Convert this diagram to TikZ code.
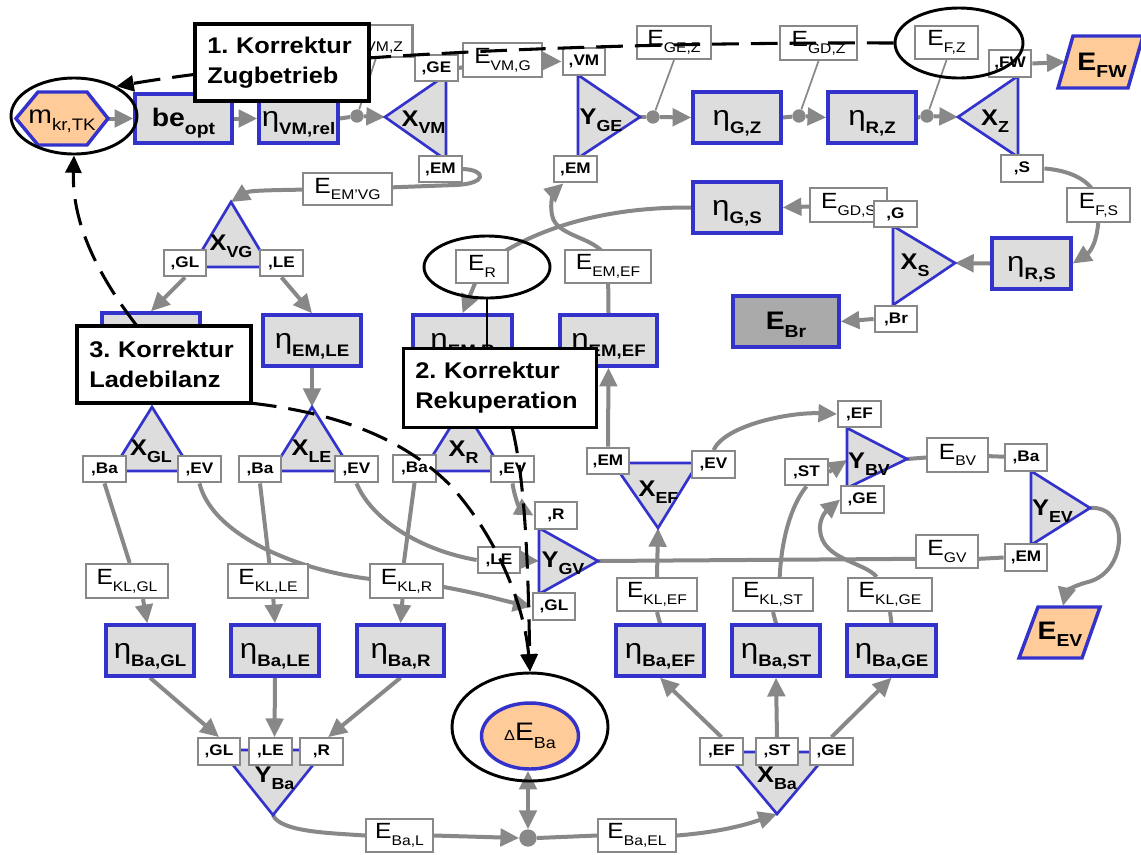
\documentclass[tikz,border=0pt]{standalone}
\usepackage{fontspec}
\setmainfont[FakeStretch=1.12]{Liberation Sans}
\usetikzlibrary{arrows.meta,shapes.geometric}
\pgfdeclarelayer{back}
\pgfdeclarelayer{bg}
\pgfsetlayers{back,bg,main}
\definecolor{nblue}{HTML}{3333CC}
\definecolor{nfill}{HTML}{DDDDDD}
\definecolor{peach}{HTML}{FFCC99}
\definecolor{cgray}{HTML}{888888}
\definecolor{brfill}{HTML}{AAAAAA}
% text helpers: efficiency boxes, energy labels, node (triangle) labels
\newcommand{\msub}[2]{{\fontsize{21}{21}\selectfont #1}\raisebox{-6pt}{\fontsize{12.5}{12.5}\selectfont\bfseries #2}}
\newcommand{\elab}[1]{{\fontsize{16.5}{16.5}\selectfont E}\raisebox{-5pt}{\fontsize{10.5}{10.5}\selectfont #1}}
\newcommand{\tlab}[2]{{\fontsize{17}{17}\selectfont\bfseries #1}\raisebox{-5.5pt}{\fontsize{12}{12}\selectfont\bfseries #2}}
\newcommand{\blab}[2]{{\fontsize{19}{19}\selectfont\bfseries #1}\raisebox{-5.5pt}{\fontsize{13}{13}\selectfont\bfseries #2}}
\begin{document}
\begin{tikzpicture}[x=0.75pt,y=-0.75pt,
 sz/.style 2 args={minimum width={#1*0.75pt},minimum height={#2*0.75pt}},
 main/.style={draw=nblue,fill=nfill,line width=2.6pt,inner sep=0pt,text height=15pt,text depth=2.5pt},
 ebox/.style={draw=cgray,fill=white,line width=1.6pt,inner sep=0pt},
 port/.style={draw=cgray,fill=white,line width=1.6pt,inner sep=0pt,minimum width=32pt,minimum height=20pt,font=\fontsize{11.5}{11.5}\selectfont\bfseries},
 tri/.style={draw=nblue,fill=nfill,line width=2pt,line join=miter},
 tlabel/.style={inner sep=0pt},
 conn/.style={draw=cgray,line width=3pt},
 arr/.style={conn,-{Triangle[length=14pt,width=13pt]}},
 thinln/.style={draw=cgray,line width=1.3pt},
 dotn/.style={circle,fill=cgray,inner sep=0pt,minimum size=10pt},
 ring/.style={ellipse,draw=black,line width=2.2pt,inner sep=0pt},
 dsh/.style={draw=black,line width=2.3pt,dash pattern=on 20pt off 9pt,-{Triangle[length=13pt,width=12pt]}},
 callout/.style={draw=black,fill=white,line width=2.5pt,align=left,inner ysep=0pt,font=\fontsize{17}{22.5}\selectfont\bfseries}
]
\useasboundingbox (0,0) rectangle (1141,854);
\begin{pgfonlayer}{back}
\fill[white] (0,0) rectangle (1141,854);
\end{pgfonlayer}

% ---------- terminals ----------
\draw[draw=nblue,fill=peach,line width=2.6pt] (16,118.5) -- (38,92) -- (87,92) -- (108,118.5) -- (87,145) -- (38,145) -- cycle;
\coordinate (mkrR) at (108,118.5);
\node[inner sep=0pt] (mkr) at (62,121) {{\fontsize{19}{19}\selectfont m}\raisebox{-5.5pt}{\fontsize{12.5}{12.5}\selectfont kr,TK}};
\draw[draw=nblue,fill=peach,line width=2.6pt] (1058,88) -- (1073,36) -- (1143,36) -- (1128,88) -- cycle;
\coordinate (efwL) at (1065.5,62);
\node[inner sep=0pt] (efw) at (1102,65) {\blab{E}{FW}};
\draw[draw=nblue,fill=peach,line width=2.6pt] (1019,658) -- (1038,607) -- (1100,607) -- (1082,658) -- cycle;
\coordinate (eevT) at (1063,606);
\node[inner sep=0pt] (eev) at (1060,634) {\blab{E}{EV}};
\node[ellipse,draw=nblue,fill=peach,line width=2.6pt,inner sep=0pt,sz={97}{66}] (deba) at (530,736)
  {{\fontsize{11}{11}\selectfont Δ}{\fontsize{19}{19}\selectfont E}\raisebox{-5.5pt}{\fontsize{12}{12}\selectfont Ba}};

% ---------- efficiency boxes ----------
\node[main,sz={97}{49}] (beopt) at (183.5,118.5) {\blab{be}{opt}};
\node[main,sz={79}{49}] (etavm) at (298.5,118.5) {\msub{η}{VM,rel}};
\node[main,sz={88}{51}] (etagz) at (737,117.5) {\msub{η}{G,Z}};
\node[main,sz={88}{51}] (etarz) at (872,117.5) {\msub{η}{R,Z}};
\node[main,sz={88}{51}] (etags) at (737,207.5) {\msub{η}{G,S}};
\node[main,sz={79}{51}] (etars) at (1031.5,263.5) {\msub{η}{R,S}};
\node[main,sz={106}{51},fill=brfill] (ebr) at (786,321.5) {\blab{E}{Br}};
\node[main,sz={98}{52}] (etaemgl) at (151,339) {};
\node[main,sz={98}{51}] (etaemle) at (312,340.5) {\msub{η}{EM,LE}};
\node[main,sz={99}{51}] (etaemr) at (462.5,340.5) {\msub{η}{EM,R}};
\node[main,sz={97}{51}] (etaemef) at (608.5,340.5) {\msub{η}{EM,EF}};
\node[main,sz={88}{51}] (etabagl) at (150,650.5) {\msub{η}{Ba,GL}};
\node[main,sz={88}{51}] (etabale) at (275,650.5) {\msub{η}{Ba,LE}};
\node[main,sz={87}{51}] (etabar) at (400.5,650.5) {\msub{η}{Ba,R}};
\node[main,sz={88}{51}] (etabaef) at (660,650.5) {\msub{η}{Ba,EF}};
\node[main,sz={88}{51}] (etabast) at (776,650.5) {\msub{η}{Ba,ST}};
\node[main,sz={89}{51}] (etabage) at (891.5,650.5) {\msub{η}{Ba,GE}};

% ---------- split / merge nodes ----------
\coordinate (XVMl) at (385,117);
\draw[tri] (XVMl) -- (446,75) -- (446,160) -- cycle;
\coordinate (YGEr) at (640,117);
\draw[tri] (578,75) -- (YGEr) -- (578,158) -- cycle;
\coordinate (XZl) at (958,117);
\draw[tri] (XZl) -- (1018,76) -- (1018,157) -- cycle;
\coordinate (XSr) at (955,263);
\draw[tri] (893,226) -- (XSr) -- (893,305) -- cycle;
\coordinate (XVGt) at (231,202);
\draw[tri] (XVGt) -- (270,267) -- (192,267) -- cycle;
\coordinate (XGLt) at (152,407);
\draw[tri] (XGLt) -- (192,471) -- (112,471) -- cycle;
\coordinate (XLEt) at (312,407);
\draw[tri] (XLEt) -- (352,471) -- (272,471) -- cycle;
\coordinate (XRt) at (463,407);
\draw[tri] (XRt) -- (503,471) -- (423,471) -- cycle;
\coordinate (XEFb) at (658,528);
\draw[tri] (613,463) -- (698,463) -- (XEFb) -- cycle;
\coordinate (YGVr) at (598,561);
\coordinate (YGVl) at (539,561);
\draw[tri] (539,528) -- (YGVr) -- (539,594) -- cycle;
\coordinate (YBVr) at (907,459);
\coordinate (YBVl) at (847,460);
\draw[tri] (847,428) -- (YBVr) -- (847,488) -- cycle;
\coordinate (YEVr) at (1090,508);
\draw[tri] (1031,471) -- (YEVr) -- (1031,545) -- cycle;
\coordinate (YBab) at (273,815);
\draw[tri] (221,750) -- (325,750) -- (YBab) -- cycle;
\coordinate (XBab) at (777,814);
\draw[tri] (725,752) -- (829,752) -- (XBab) -- cycle;

\node[tlabel] (lXVM) at (423.5,122.5) {\tlab{X}{VM}};
\node[tlabel] (lYGE) at (601,120.5) {\tlab{Y}{GE}};
\node[tlabel] (lXZ) at (995,121) {\tlab{X}{Z}};
\node[tlabel] (lXS) at (915,265) {\tlab{X}{S}};
\node[tlabel] (lXVG) at (231,246) {\tlab{X}{VG}};
\node[tlabel] (lXGL) at (151,451) {\tlab{X}{GL}};
\node[tlabel] (lXLE) at (311.5,451) {\tlab{X}{LE}};
\node[tlabel] (lXR) at (463.5,452) {\tlab{X}{R}};
\node[tlabel] (lXEF) at (658.5,492.5) {\tlab{X}{EF}};
\node[tlabel] (lYGV) at (563,563.5) {\tlab{Y}{GV}};
\node[tlabel] (lYBV) at (869,464) {\tlab{Y}{BV}};
\node[tlabel] (lYEV) at (1052.5,511.5) {\tlab{Y}{EV}};
\node[tlabel] (lYBa) at (274.5,778) {\tlab{Y}{Ba}};
\node[tlabel] (lXBa) at (777,778) {\tlab{X}{Ba}};

% ---------- energy labels ----------
\node[ebox,sz={73}{32}] (evmz) at (376,41) {\elab{VM,Z}};
\node[ebox,sz={79}{34}] (evmg) at (502.5,60) {\elab{VM,G}};
\node[ebox,sz={74}{33}] (egez) at (674,42.5) {\elab{GE,Z}};
\node[ebox,sz={77}{34}] (egdz) at (818.5,43) {\elab{GD,Z}};
\node[ebox,sz={63}{33}] (efz) at (946.5,42.5) {\elab{F,Z}};
\node[ebox,sz={89}{32}] (eemvg) at (347.5,189) {\elab{EM’VG}};
\node[ebox,sz={77}{34}] (egds) at (848.5,205) {\elab{GD,S}};
\node[ebox,sz={63}{34}] (efs) at (1098.5,205) {\elab{F,S}};
\node[ebox,sz={52}{33}] (er) at (482,266.5) {\elab{R}};
\node[ebox,sz={86}{33}] (eemef) at (608,266.5) {\elab{EM,EF}};
\node[ebox,sz={61}{34}] (ebv) at (957.5,455) {\elab{BV}};
\node[ebox,sz={62}{33}] (egv) at (947,551.5) {\elab{GV}};
\node[ebox,sz={82}{34}] (eklgl) at (127,581) {\elab{KL,GL}};
\node[ebox,sz={80}{34}] (eklle) at (268,581) {\elab{KL,LE}};
\node[ebox,sz={73}{34}] (eklr) at (406.5,581) {\elab{KL,R}};
\node[ebox,sz={80}{33}] (eklef) at (657,594.5) {\elab{KL,EF}};
\node[ebox,sz={80}{33}] (eklst) at (773,594.5) {\elab{KL,ST}};
\node[ebox,sz={84}{33}] (eklge) at (890,594.5) {\elab{KL,GE}};
\node[ebox,sz={67}{33}] (ebal) at (399.5,835.5) {\elab{Ba,L}};
\node[ebox,sz={78}{33}] (ebael) at (637,835.5) {\elab{Ba,EL}};

% ---------- ports ----------
\node[port] (pvmge) at (436.5,68) {,GE};
\node[port] (pvmem) at (440.5,169) {,EM};
\node[port] (pgevm) at (584,61.5) {,VM};
\node[port] (pgeem) at (575.5,169) {,EM};
\node[port] (pzfw) at (1010,63.5) {,FW};
\node[port] (pzs) at (1022,168.5) {,S};
\node[port] (psg) at (895.5,214) {,G};
\node[port] (psbr) at (896,319) {,Br};
\node[port] (pvggl) at (185,263) {,GL};
\node[port] (pvgle) at (281.5,263) {,LE};
\node[port] (pglba) at (104.5,469) {,Ba};
\node[port] (pglev) at (199.5,469) {,EV};
\node[port] (pleba) at (260,469) {,Ba};
\node[port] (pleev) at (356.5,469) {,EV};
\node[port] (prba) at (414.5,468.5) {,Ba};
\node[port] (prev) at (512.5,469) {,EV};
\node[port] (pefem) at (608,461) {,EM};
\node[port] (pefev) at (713.5,464.5) {,EV};
\node[port] (pgvr) at (556,515.5) {,R};
\node[port] (pgvle) at (499,560) {,LE};
\node[port] (pgvgl) at (554,606.5) {,GL};
\node[port] (pbvef) at (859.5,414) {,EF};
\node[port] (pbvst) at (806.5,472) {,ST};
\node[port] (pbvge) at (862.5,499.5) {,GE};
\node[port] (pevba) at (1026,457.5) {,Ba};
\node[port] (pevem) at (1026,557.5) {,EM};
\node[port] (pbagl) at (219,751.5) {,GL};
\node[port] (pbale) at (270.5,751.5) {,LE};
\node[port] (pbar) at (321.5,751.5) {,R};
\node[port] (pbaef) at (721.5,751.5) {,EF};
\node[port] (pbast) at (777,751.5) {,ST};
\node[port] (pbage) at (831.5,751.5) {,GE};

% ---------- junction dots ----------
\node[dotn] (d1) at (357,116) {};
\node[dotn] (d2) at (653,117) {};
\node[dotn] (d3) at (799,116) {};
\node[dotn] (d4) at (927,116) {};
\node[dotn,minimum size=13pt] (d5) at (528,838) {};

% ---------- energy flow connectors ----------
\begin{pgfonlayer}{bg}
\draw[arr] (mkrR) -- (beopt.west);
\draw[arr] (beopt.east) -- (etavm.west);
\draw[conn] (etavm.east) -- (d1);
\draw[arr] (d1) -- (XVMl);
\draw[thinln] (evmz.south) -- (d1);
\draw[arr] (pvmge.east) -- (evmg.center) -- (pgevm.west);
\draw[conn] (YGEr) -- (d2);
\draw[arr] (d2) -- (etagz.west);
\draw[thinln] (egez.south) -- (d2);
\draw[conn] (etagz.east) -- (d3);
\draw[arr] (d3) -- (etarz.west);
\draw[thinln] (egdz.south) -- (d3);
\draw[conn] (etarz.east) -- (d4);
\draw[arr] (d4) -- (XZl);
\draw[thinln] (efz.south) -- (d4);
\draw[arr] (pzfw.east) -- (efwL);
\draw[arr] (pzs.east) .. controls (1065,170) and (1095,178) .. (efs.center) .. controls (1100,240) and (1090,252) .. (etars.east);
\draw[arr] (etars.west) -- (XSr);
\draw[arr] (psg.center) -- (egds.center) -- (etags.east);
\draw[arr] (psbr.west) -- (ebr.east);
\draw[arr] (etags.west) .. controls (600,207) and (530,230) .. (er.center) -- (etaemr.north);
\draw[arr] (pvmem.east) .. controls (487,170) and (487,184) .. (455,185) -- (eemvg.center) .. controls (280,190) and (250,190) .. (XVGt);
\draw[arr] (pvggl.south) -- (etaemgl.north);
\draw[arr] (pvgle.south) -- (etaemle.north);
\draw[arr] (etaemle.south) -- (XLEt);
\draw[arr] (etaemef.north) -- (eemef.center) .. controls (608,236) and (556,240) .. (552,215) .. controls (549,198) and (556,190) .. (pgeem.230);
\draw[arr] (pefem.north) -- (etaemef.south);
\draw[arr] (pefev.north) .. controls (725,425) and (790,412) .. (pbvef.west);
\draw[conn] (YBVr) -- (ebv.center) -- (pevba.center);
\draw[arr] (YEVr) .. controls (1130,505) and (1128,572) .. (1088,582) .. controls (1072,586) and (1066,592) .. (eevT);
\draw[conn] (YGVr) -- ([yshift=-5.5pt]egv.west) -- ([yshift=-5.5pt]egv.east) -- (pevem.west);
\draw[conn] (pglba.south) -- ([xshift=2pt]eklgl.north);
\draw[arr] ([xshift=12pt]eklgl.south) -- ([xshift=-2pt]etabagl.north);
\draw[conn] (pleba.south) -- ([xshift=1pt]eklle.north);
\draw[arr] ([xshift=4pt]eklle.south) -- (etabale.north);
\draw[conn] (prba.south) -- ([xshift=-2pt]eklr.north);
\draw[arr] ([xshift=-3pt]eklr.south) -- (etabar.north);
\draw[arr] (pglev.south) .. controls (215,545) and (330,582) .. (eklr.center) .. controls (470,590) and (500,600) .. (pgvgl.west);
\draw[conn] (pleev.south) .. controls (372,520) and (420,550) .. (pgvle.west);
\draw[arr] (pgvle.east) -- (YGVl);
\draw[arr] (prev.south) .. controls (515,500) and (520,508) .. (pgvr.west);
\draw[conn] (etabaef.north) -- (eklef.south);
\draw[arr] (eklef.north) -- (XEFb);
\draw[conn] (etabast.north) -- (eklst.south);
\draw[conn] ([xshift=5pt]eklst.north) .. controls (782,530) and (795,500) .. (pbvst.south);
\draw[arr] (pbvst.east) -- (YBVl);
\draw[conn] (etabage.north) -- (eklge.south);
\draw[arr] ([xshift=-10pt]eklge.north) .. controls (865,562) and (822,560) .. (820,530) .. controls (819,515) and (830,508) .. (pbvge.west);
\draw[conn] (YBab) .. controls (280,832) and (330,833) .. (ebal.west);
\draw[arr] (ebal.east) -- (d5.west);
\draw[conn,{Triangle[length=14pt,width=13pt]}-{Triangle[length=14pt,width=13pt]}] (d5.north) -- (d5.north |- deba.south);
\draw[conn] (d5.east) -- (ebael.west);
\draw[arr] (ebael.east) .. controls (720,832) and (745,825) .. (XBab);
\draw[arr] (pbaef.north) -- (etabaef.south);
\draw[arr] (pbast.north) -- (etabast.south);
\draw[arr] (pbage.north) -- (etabage.south);
\draw[arr] (etabagl.south) -- (pbagl.north);
\draw[arr] (etabale.south) -- ([xshift=3pt]pbale.north);
\draw[arr] (etabar.south) -- ([xshift=5pt]pbar.north);
\end{pgfonlayer}

% ---------- corrections ----------
\node[ring,sz={126}{76}] (ring1) at (74,116) {};
\node[ring,sz={128}{70}] (ring2) at (959,43) {};
\node[ring,sz={126}{62}] (ring3) at (487,267) {};
\node[ring,sz={156}{108}] (ring4) at (530,727) {};
\coordinate (c3top) at (137,326);
\coordinate (c3br) at (250,403);
\coordinate (c2bot) at (512,427);
\draw[dsh] (ring2.west) .. controls (600,42) and (300,55) .. (ring1.35);
\draw[dsh] (c3top) .. controls (90,265) and (72,215) .. (ring1.south);
\draw[dsh] (c3br) .. controls (330,412) and (400,435) .. (450,485) .. controls (500,540) and (525,610) .. (ring4.north);
\draw[dsh] (c2bot) .. controls (525,480) and (528,560) .. (ring4.north);
\node[callout,sz={174}{77},text width=112pt,inner xsep=9pt] (c1) at (282,62.5) {1.\ Korrektur\\Zugbetrieb};
\node[callout,sz={193}{79},text width=127pt,inner xsep=8pt] (c2) at (500,388) {2.\ Korrektur\\Rekuperation};
\node[callout,sz={174}{77},text width=112pt,inner xsep=9pt] (c3) at (164,364.5) {3.\ Korrektur\\Ladebilanz};
\draw[draw=black,line width=2.2pt] (ring3.south) -- (ring3.south |- c2.north);
\end{tikzpicture}
\end{document}
